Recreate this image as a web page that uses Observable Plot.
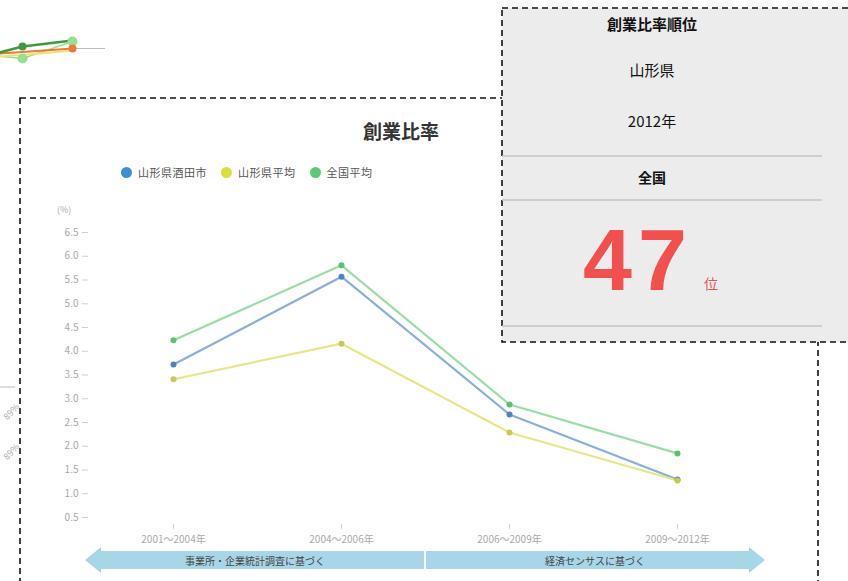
<!DOCTYPE html>
<html>
<head>
<meta charset="utf-8">
<script src="https://cdn.jsdelivr.net/npm/d3@7"></script>
<script src="https://cdn.jsdelivr.net/npm/@observablehq/plot@0.6"></script>
<style>
  html, body { margin: 0; padding: 0; background: #fff; }
  body { font-family: "Noto Sans CJK JP", "Noto Sans", sans-serif; }
  #stage { position: relative; width: 848px; height: 581px; overflow: hidden; background: #fff; }
  .abs { position: absolute; }
  .ctr { text-align: center; white-space: nowrap; }
</style>
</head>
<body>
<div id="stage">
  <!-- main dashed box -->
  <svg class="abs" style="left:0;top:0" width="848" height="581">
    <rect x="20" y="98" width="798" height="600" fill="none" stroke="#111" stroke-width="1.6" stroke-dasharray="6 4"/>
    <line x1="0" y1="387" x2="15" y2="387" stroke="#ddd" stroke-width="2"/>
  </svg>
  <div class="abs" style="left:2px;top:406px;transform:rotate(-45deg);font-size:9px;color:#aaa;line-height:11px">89%</div>
  <div class="abs" style="left:2px;top:446px;transform:rotate(-45deg);font-size:9px;color:#aaa;line-height:11px">89%</div>

  <div id="frag" class="abs" style="left:0;top:25px"></div>
  <div id="main" class="abs" style="left:0;top:0"></div>

  <div class="abs ctr" style="left:301px;top:117px;width:200px;font-size:19px;font-weight:bold;color:#333">創業比率</div>
  <div id="legend" class="abs" style="left:121px;top:164px;display:flex;align-items:center;font-size:11px;color:#555"></div>
  <div class="abs" style="left:57px;top:203px;font-size:9px;color:#aaa">(%)</div>

  <!-- banner -->
  <div class="abs" style="left:85px;top:547px;width:680px;height:26px;background:#a9d5e9;clip-path:polygon(0 50%,16px 0,16px 4px,664px 4px,664px 0,100% 50%,664px 100%,664px 22px,16px 22px,16px 100%)"></div>
  <div class="abs" style="left:424px;top:551px;width:2px;height:18px;background:#fff"></div>
  <div class="abs ctr" style="left:155px;top:553px;width:200px;font-size:10px;color:#444">事業所・企業統計調査に基づく</div>
  <div class="abs ctr" style="left:495px;top:553px;width:200px;font-size:10px;color:#444">経済センサスに基づく</div>

  <!-- right panel -->
  <div class="abs" style="left:502px;top:8px;width:400px;height:334px;background:#ececec"></div>
  <svg class="abs" style="left:0;top:0" width="848" height="581">
    <rect x="502" y="8" width="400" height="334" fill="none" stroke="#111" stroke-width="1.6" stroke-dasharray="6 4"/>
    <line x1="502" y1="156" x2="822" y2="156" stroke="#c4c4c4" stroke-width="1.5"/>
    <line x1="502" y1="200" x2="822" y2="200" stroke="#c4c4c4" stroke-width="1.5"/>
    <line x1="502" y1="326" x2="822" y2="326" stroke="#c4c4c4" stroke-width="1.5"/>
  </svg>
  <div class="abs ctr" style="left:552px;top:13px;width:200px;font-size:15px;font-weight:bold;color:#111">創業比率順位</div>
  <div class="abs ctr" style="left:552px;top:59px;width:200px;font-size:15px;color:#111">山形県</div>
  <div class="abs ctr" style="left:552px;top:110px;width:200px;font-size:15px;color:#111">2012年</div>
  <div class="abs ctr" style="left:552px;top:167px;width:200px;font-size:14px;font-weight:bold;color:#111">全国</div>
  <div class="abs" style="left:583px;top:210px;font-family:'Liberation Sans',Arial,sans-serif;font-size:88px;font-weight:bold;color:#f24f4f;line-height:100px;letter-spacing:6px">47</div>
  <div class="abs" style="left:704px;top:273px;font-size:14px;color:#f24f4f">位</div>
</div>

<script>
// ---- main chart data ----
const categories = ["2001～2004年", "2004～2006年", "2006～2009年", "2009～2012年"];
const seriesNames = ["山形県酒田市", "山形県平均", "全国平均"];
const sakataValues = [3.72, 5.57, 2.67, 1.30];
const yamagataValues = [3.41, 4.16, 2.29, 1.28];
const nationalValues = [4.23, 5.81, 2.88, 1.85];
const yTicks = [0.5, 1.0, 1.5, 2.0, 2.5, 3.0, 3.5, 4.0, 4.5, 5.0, 5.5, 6.0, 6.5];
const lineColors = ["#7ea6d6", "#e4e47c", "#8fd99c"];
const dotColors = ["#4f82c0", "#c9c95a", "#5cbf72"];
const legendColors = ["#3d8fcf", "#d9e03e", "#5cc87a"];

// ---- background fragment (another chart, cut off) ----
const fragX = [-1, 0, 1];
const fragDarkGreen = [0.6, 1.9, 2.5];
const fragOrange = [1.0, 1.35, 1.7];
const fragYellow = [0.7, 1.05, 1.5];
const fragLightGreen = [1.2, 0.7, 2.4];
const fragRefLevel = [1.7];

const allValues = [sakataValues, yamagataValues, nationalValues];
const rows = [];
seriesNames.forEach((s, i) => categories.forEach((c, j) => rows.push({cat: c, series: s, value: allValues[i][j], idx: i})));

const main = Plot.plot({
  width: 848, height: 581,
  marginLeft: 88, marginRight: 86, marginTop: 220, marginBottom: 57,
  style: {fontFamily: "'Noto Sans CJK JP', sans-serif", background: "transparent"},
  x: {type: "point", domain: categories, padding: 0.5, label: null},
  y: {domain: [0.353, 6.753], label: null},
  color: {domain: seriesNames, range: lineColors},
  marks: [
    Plot.axisY({ticks: yTicks, tickFormat: d => d.toFixed(1), tickSize: 6, tickPadding: 4, line: true, stroke: "#d0d0d0", fill: "#aaa", fontSize: 10, label: null}),
    Plot.axisX({tickSize: 5, tickPadding: 6, line: true, stroke: "#d0d0d0", fill: "#aaa", fontSize: 10, label: null}),
    Plot.line(rows, {x: "cat", y: "value", z: "series", stroke: "series", strokeWidth: 2.2, strokeOpacity: 0.9}),
    Plot.dot(rows, {x: "cat", y: "value", r: 3, fill: d => dotColors[d.idx], stroke: "none"})
  ]
});
document.getElementById("main").appendChild(main);

// legend
const leg = document.getElementById("legend");
seriesNames.forEach((s, i) => {
  const item = document.createElement("div");
  item.style.cssText = "display:flex;align-items:center;margin-right:14px;letter-spacing:0.5px";
  item.innerHTML = `<span style="display:inline-block;width:11px;height:11px;border-radius:50%;background:${legendColors[i]};margin-right:6px"></span><span>${s}</span>`;
  leg.appendChild(item);
});

// fragment chart
const fragRows = [];
[["dg", fragDarkGreen], ["or", fragOrange], ["ye", fragYellow], ["lg", fragLightGreen]].forEach(([k, arr]) =>
  fragX.forEach((x, j) => fragRows.push({k, x, v: arr[j]})));
const fragCol = {dg: "#3f9a3f", or: "#ea7a3c", ye: "#f2e070", lg: "#97e08f"};
const frag = Plot.plot({
  width: 130, height: 40, margin: 0,
  style: {background: "transparent"},
  x: {domain: [-0.44, 2.16], axis: null},
  y: {domain: [0, 4], axis: null},
  marks: [
    Plot.ruleY(fragRefLevel, {x1: 1, x2: 1.66, stroke: "#bbb", strokeWidth: 1}),
    Plot.line(fragRows.filter(d => d.k === "lg"), {x: "x", y: "v", stroke: fragCol.lg, strokeWidth: 1.5}),
    Plot.line(fragRows.filter(d => d.k === "ye"), {x: "x", y: "v", stroke: fragCol.ye, strokeWidth: 2}),
    Plot.line(fragRows.filter(d => d.k === "or"), {x: "x", y: "v", stroke: fragCol.or, strokeWidth: 2}),
    Plot.line(fragRows.filter(d => d.k === "dg"), {x: "x", y: "v", stroke: fragCol.dg, strokeWidth: 2.5}),
    Plot.dot(fragRows.filter(d => d.k === "lg" && d.x >= 0), {x: "x", y: "v", r: 5, fill: fragCol.lg}),
    Plot.dot(fragRows.filter(d => d.k === "or" && d.x === 1), {x: "x", y: "v", r: 4, fill: fragCol.or}),
    Plot.dot(fragRows.filter(d => d.k === "dg" && d.x === 0), {x: "x", y: "v", r: 4, fill: fragCol.dg})
  ]
});
document.getElementById("frag").appendChild(frag);
</script>
</body>
</html>
